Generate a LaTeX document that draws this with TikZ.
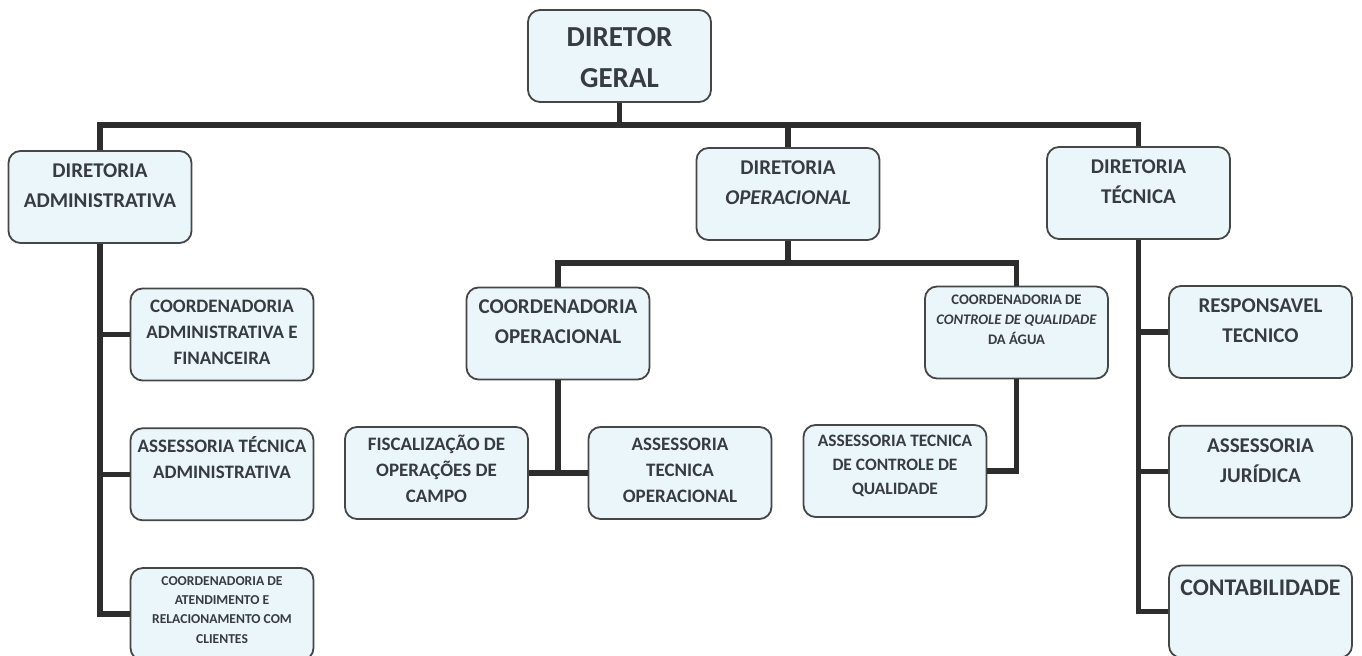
\documentclass[tikz,border=0pt]{standalone}
\usepackage{fontspec}
\setmainfont{Carlito}
\usetikzlibrary{positioning}
\definecolor{boxfill}{RGB}{234,246,250}
\definecolor{boxline}{RGB}{70,70,70}
\definecolor{txtgray}{RGB}{55,60,65}
\definecolor{linegray}{RGB}{45,45,45}
\newlength{\orgw}\setlength{\orgw}{91.5pt}
\newlength{\orgh}\setlength{\orgh}{46pt}
\newcommand{\boxtxt}[1]{\parbox[c][\orgh][t]{\orgw}{\centering\rule{0pt}{1.25em}#1\par}}

\begin{document}
\begin{tikzpicture}[
    x=0.5pt, y=-0.5pt,
    node distance=23pt,
    box/.style={rectangle, rounded corners=6pt, draw=boxline, line width=0.9pt, fill=boxfill, inner sep=0pt, minimum width=\orgw, minimum height=\orgh, text=txtgray},
    topbox/.style={box, font=\fontsize{14.5}{20.5}\selectfont\bfseries},
    headbox/.style={box, font=\fontsize{10.5}{15}\selectfont\bfseries},
    subbox/.style={box, font=\fontsize{9.5}{13}\selectfont\bfseries},
    smallbox/.style={box, font=\fontsize{8.7}{12}\selectfont\bfseries},
    tinybox/.style={box, font=\fontsize{6.8}{9.7}\selectfont\bfseries},
    contbox/.style={box, font=\fontsize{11.9}{16}\selectfont\bfseries},
    conn/.style={draw=linegray, line width=2.6pt}
]
\useasboundingbox (0,0) rectangle (1362,656);

% top levels
\node[topbox] (gen) at (619.5,56) {\boxtxt{DIRETOR\\GERAL}};
\node[headbox] (adm) at (100,197) {\boxtxt{DIRETORIA\\ADMINISTRATIVA}};
\node[headbox] (op) at (788,194) {\boxtxt{DIRETORIA\\\textit{OPERACIONAL}}};
\node[headbox] (tec) at (1138.5,193) {\boxtxt{DIRETORIA\\TÉCNICA}};

% administrativa
\node[subbox] (cadm) at (222,334.5) {\boxtxt{COORDENADORIA\\ADMINISTRATIVA E\\FINANCEIRA}};
\node[subbox, below=of cadm] (atadm) {\boxtxt{ASSESSORIA TÉCNICA\\ADMINISTRATIVA}};
\node[tinybox, below=of atadm] (catend) {\boxtxt{COORDENADORIA DE\\ATENDIMENTO E\\RELACIONAMENTO COM\\CLIENTES}};

% operacional
\node[headbox] (cop) at (558,333.5) {\boxtxt{COORDENADORIA\\OPERACIONAL}};
\node[subbox] (fisc) at (436.5,473) {\boxtxt{FISCALIZAÇÃO DE\\OPERAÇÕES DE\\CAMPO}};
\node[subbox] (atop) at (680,473) {\boxtxt{ASSESSORIA\\TECNICA\\OPERACIONAL}};
\node[tinybox, font=\fontsize{7.3}{10}\selectfont\bfseries] (cqual) at (1016.5,332.5) {\boxtxt{COORDENADORIA DE\\\textit{CONTROLE DE QUALIDADE}\\DA ÁGUA}};
\node[smallbox] (atqual) at (895,471) {\boxtxt{ASSESSORIA TECNICA\\DE CONTROLE DE\\QUALIDADE}};

% tecnica
\node[headbox] (resp) at (1260.5,332) {\boxtxt{RESPONSAVEL\\TECNICO}};
\node[headbox, below=of resp] (jur) {\boxtxt{ASSESSORIA\\JURÍDICA}};
\node[contbox, below=of jur] (cont) {\boxtxt{CONTABILIDADE}};

% connectors
\coordinate (bus) at (0,125);
\coordinate (opbus) at (0,263);
\draw[conn] (gen.south) -- (gen.south |- bus);
\draw[conn] (adm.north) -- (adm.north |- bus) -- (tec.north |- bus) -- (tec.north);
\draw[conn] (op.north) -- (op.north |- bus);

\draw[conn] (adm.south) |- (catend.west);
\draw[conn] (adm.south |- cadm.west) -- (cadm.west);
\draw[conn] (adm.south |- atadm.west) -- (atadm.west);

\draw[conn] (op.south) -- (op.south |- opbus);
\draw[conn] (cop.north) -- (cop.north |- opbus) -- (cqual.north |- opbus) -- (cqual.north);
\draw[conn] (cop.south) -- (cop.south |- fisc.east);
\draw[conn] (fisc.east) -- (atop.west);
\draw[conn] (cqual.south) |- (atqual.east);

\draw[conn] (tec.south) |- (cont.west);
\draw[conn] (tec.south |- resp.west) -- (resp.west);
\draw[conn] (tec.south |- jur.west) -- (jur.west);
\end{tikzpicture}
\end{document}
